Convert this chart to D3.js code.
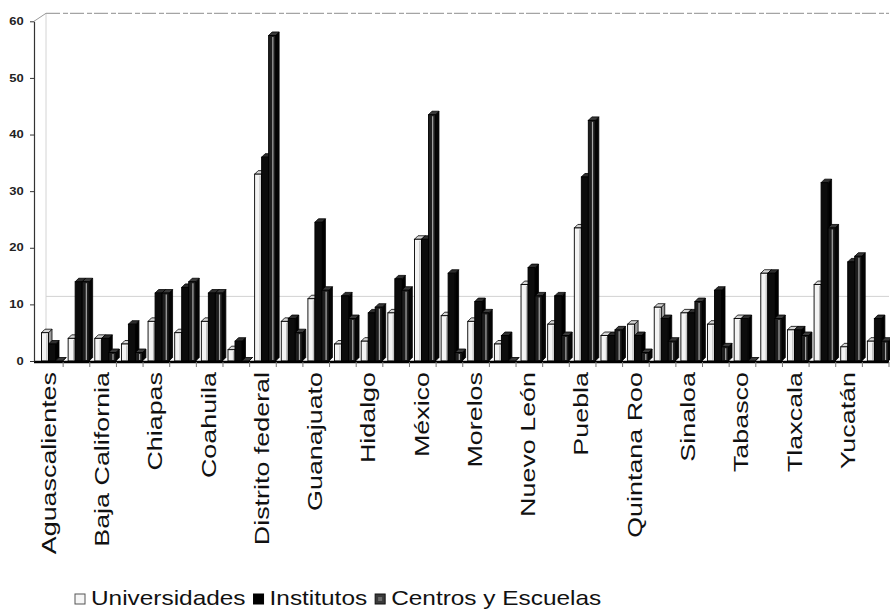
<!DOCTYPE html>
<html>
<head>
<meta charset="utf-8">
<script src="https://cdn.jsdelivr.net/npm/d3@7"></script>
<style>
  html, body { margin: 0; padding: 0; background: #ffffff; }
  svg { display: block; font-family: "Liberation Sans", Arial, sans-serif; }
</style>
</head>
<body>
<svg id="chart" width="890" height="609"></svg>
<script>
// Mexican states, alphabetical order
const states = [
  "Aguascalientes", "Baja California", "Baja California Sur", "Campeche",
  "Chiapas", "Chihuahua", "Coahuila", "Colima",
  "Distrito Federal", "Durango", "Guanajuato", "Guerrero",
  "Hidalgo", "Jalisco", "México", "Michoacán",
  "Morelos", "Nayarit", "Nuevo León", "Oaxaca",
  "Puebla", "Querétaro", "Quintana Roo", "San Luis Potosí",
  "Sinaloa", "Sonora", "Tabasco", "Tamaulipas",
  "Tlaxcala", "Veracruz", "Yucatán", "Zacatecas"
];

// Category labels printed under every second state
const axisLabels = [
  "Aguascalientes", "Baja California", "Chiapas", "Coahuila",
  "Distrito federal", "Guanajuato", "Hidalgo", "México",
  "Morelos", "Nuevo León", "Puebla", "Quintana Roo",
  "Sinaloa", "Tabasco", "Tlaxcala", "Yucatán"
];

const seriesNames = ["Universidades", "Institutos", "Centros y Escuelas"];

const universidades = [5, 4, 4, 3, 7, 5, 7, 2, 33, 7, 11, 3, 3.5, 8.5, 21.5, 8,
                       7, 3, 13.5, 6.5, 23.5, 4.5, 6.5, 9.5, 8.5, 6.5, 7.5, 15.5, 5.5, 13.5, 2.5, 3.5];
const institutos    = [3, 14, 4, 6.5, 12, 13, 12, 3.5, 36, 7.5, 24.5, 11.5, 8.5, 14.5, 21.5, 15.5,
                       10.5, 4.5, 16.5, 11.5, 32.5, 4.5, 4.5, 7.5, 8.5, 12.5, 7.5, 15.5, 5.5, 31.5, 17.5, 7.5];
const centros       = [0, 14, 1.5, 1.5, 12, 14, 12, 0, 57.5, 5, 12.5, 7.5, 9.5, 12.5, 43.5, 1.5,
                       8.5, 0, 11.5, 4.5, 42.5, 5.5, 1.5, 3.5, 10.5, 2.5, 0, 7.5, 4.5, 23.5, 18.5, 3.5];

const yTicks = [0, 10, 20, 30, 40, 50, 60];

// ---- layout ----
const svg = d3.select("#chart");
const axisX = 34;            // value axis line
const plotRight = 889;
const depthX = 12, depthY = 8;   // offset of the back wall
const barW = 7, barDX = 3.5, barDY = 3.5;  // column front width and 3-D depth
const labelStretch = 1.28;
const legendStretch = 1.22;

const x = d3.scaleBand().domain(states).range([36.5, plotRight]).padding(0);
const y = d3.scaleLinear().domain([0, 60]).range([361, 21.3]);

const series = [
  { name: seriesNames[0], values: universidades, front: "#f4f4f4", side: "#9c9c9c", top: "#d6d6d6" },
  { name: seriesNames[1], values: institutos,    front: "#0c0c0c", side: "#000000", top: "#2e2e2e" },
  { name: seriesNames[2], values: centros,       front: "#1e1e1e", side: "#050505", top: "#3a3a3a", stripe: "#a8a8a8" }
];

// ---- back wall ----
const wall = svg.append("g");
wall.append("line")
  .attr("x1", axisX + depthX).attr("y1", y(0) - depthY)
  .attr("x2", axisX + depthX).attr("y2", y(60) - depthY)
  .attr("stroke", "#d4d4d4").attr("stroke-width", 1);
wall.append("line")
  .attr("x1", axisX).attr("y1", y(60))
  .attr("x2", axisX + depthX).attr("y2", y(60) - depthY)
  .attr("stroke", "#9a9a9a").attr("stroke-width", 1);
wall.append("line")
  .attr("x1", axisX + depthX).attr("y1", y(60) - depthY)
  .attr("x2", plotRight).attr("y2", y(60) - depthY)
  .attr("stroke", "#a4a4a4").attr("stroke-width", 1.2)
  .attr("stroke-dasharray", "14,3,5,2");
wall.append("line")
  .attr("x1", axisX + depthX).attr("y1", y(10) - depthY)
  .attr("x2", plotRight).attr("y2", y(10) - depthY)
  .attr("stroke", "#d2d2d2").attr("stroke-width", 1);

// ---- columns ----
const bars = svg.append("g");
states.forEach((st, i) => {
  series.forEach((s, k) => {
    const v = s.values[i];
    const x0 = x(st) + 5 + k * barW;
    const yt = y(v), yb = y(0);
    const g = bars.append("g");
    g.append("polygon")
      .attr("points", [[x0 + barW, yt], [x0 + barW + barDX, yt - barDY], [x0 + barW + barDX, yb - barDY], [x0 + barW, yb]].join(" "))
      .attr("fill", s.side).attr("stroke", "#000").attr("stroke-width", 0.8).attr("stroke-linejoin", "round");
    g.append("polygon")
      .attr("points", [[x0, yt], [x0 + barDX, yt - barDY], [x0 + barW + barDX, yt - barDY], [x0 + barW, yt]].join(" "))
      .attr("fill", s.top).attr("stroke", "#000").attr("stroke-width", 0.8).attr("stroke-linejoin", "round");
    g.append("rect")
      .attr("x", x0).attr("y", yt)
      .attr("width", barW).attr("height", yb - yt)
      .attr("fill", s.front).attr("stroke", "#000").attr("stroke-width", 0.9);
    if (s.stripe && yb - yt > 3) {
      g.append("line")
        .attr("x1", x0 + barW * 0.6).attr("x2", x0 + barW * 0.6)
        .attr("y1", yt + 1.5).attr("y2", yb - 1)
        .attr("stroke", s.stripe).attr("stroke-width", 1.2);
    }
    if (k === 0 && yb - yt > 3) {
      g.append("line")
        .attr("x1", x0 + barW - 1.6).attr("x2", x0 + barW - 1.6)
        .attr("y1", yt + 1.5).attr("y2", yb - 1)
        .attr("stroke", "#b4b4b4").attr("stroke-width", 1);
    }
  });
});

// ---- category axis ----
const baseY = y(0) + 1;
svg.append("line")
  .attr("x1", axisX).attr("x2", plotRight)
  .attr("y1", baseY).attr("y2", baseY)
  .attr("stroke", "#000").attr("stroke-width", 2.4);
const bounds = states.map(s => x(s)).concat([x(states[states.length - 1]) + x.bandwidth()]);
svg.append("g").selectAll("line").data(bounds.slice(1)).join("line")
  .attr("x1", d => d).attr("x2", d => d)
  .attr("y1", baseY).attr("y2", baseY + 5)
  .attr("stroke", "#777").attr("stroke-width", 1);

svg.append("g").selectAll("text").data(axisLabels).join("text")
  .attr("transform", (d, j) => {
    const cx = x(states[j * 2]) + x.bandwidth() / 2 - 1.5;
    return `translate(${cx},372) rotate(-90) scale(${labelStretch},1)`;
  })
  .attr("dy", "0.35em")
  .attr("text-anchor", "end")
  .attr("font-size", 21)
  .attr("fill", "#111")
  .text(d => d);

// ---- value axis ----
const yAxis = svg.append("g")
  .attr("transform", `translate(${axisX},0)`)
  .call(d3.axisLeft(y).tickValues(yTicks).tickSize(4).tickPadding(4).tickSizeOuter(0));
yAxis.select(".domain").attr("stroke", "#333").attr("stroke-width", 1.2);
yAxis.selectAll(".tick line").attr("stroke", "#333");
yAxis.selectAll(".tick text")
  .attr("font-size", 10)
  .attr("font-family", "'Liberation Sans', Arial, sans-serif")
  .attr("font-weight", "bold")
  .attr("fill", "#222")
  .attr("transform", "scale(1.3,1)");

// ---- legend ----
const legend = svg.append("g");
let lx = 75;
const legendFills = [
  { fill: "#f6f6f6", stroke: "#555" },
  { fill: "#000", stroke: "#000" },
  { fill: "#3a3a3a", stroke: "#111" }
];
seriesNames.forEach((name, k) => {
  legend.append("rect")
    .attr("x", lx).attr("y", 594).attr("width", 10).attr("height", 10)
    .attr("fill", legendFills[k].fill).attr("stroke", legendFills[k].stroke).attr("stroke-width", 1);
  if (k === 2) {
    legend.append("rect")
      .attr("x", lx + 3).attr("y", 597).attr("width", 4).attr("height", 4)
      .attr("fill", "#6a6a6a");
  }
  const t = legend.append("text")
    .attr("transform", `translate(${lx + 16},605) scale(${legendStretch},1)`)
    .attr("font-size", 20)
    .attr("fill", "#111")
    .text(name);
  lx += 16 + t.node().getComputedTextLength() * legendStretch + 8;
});
</script>
</body>
</html>
